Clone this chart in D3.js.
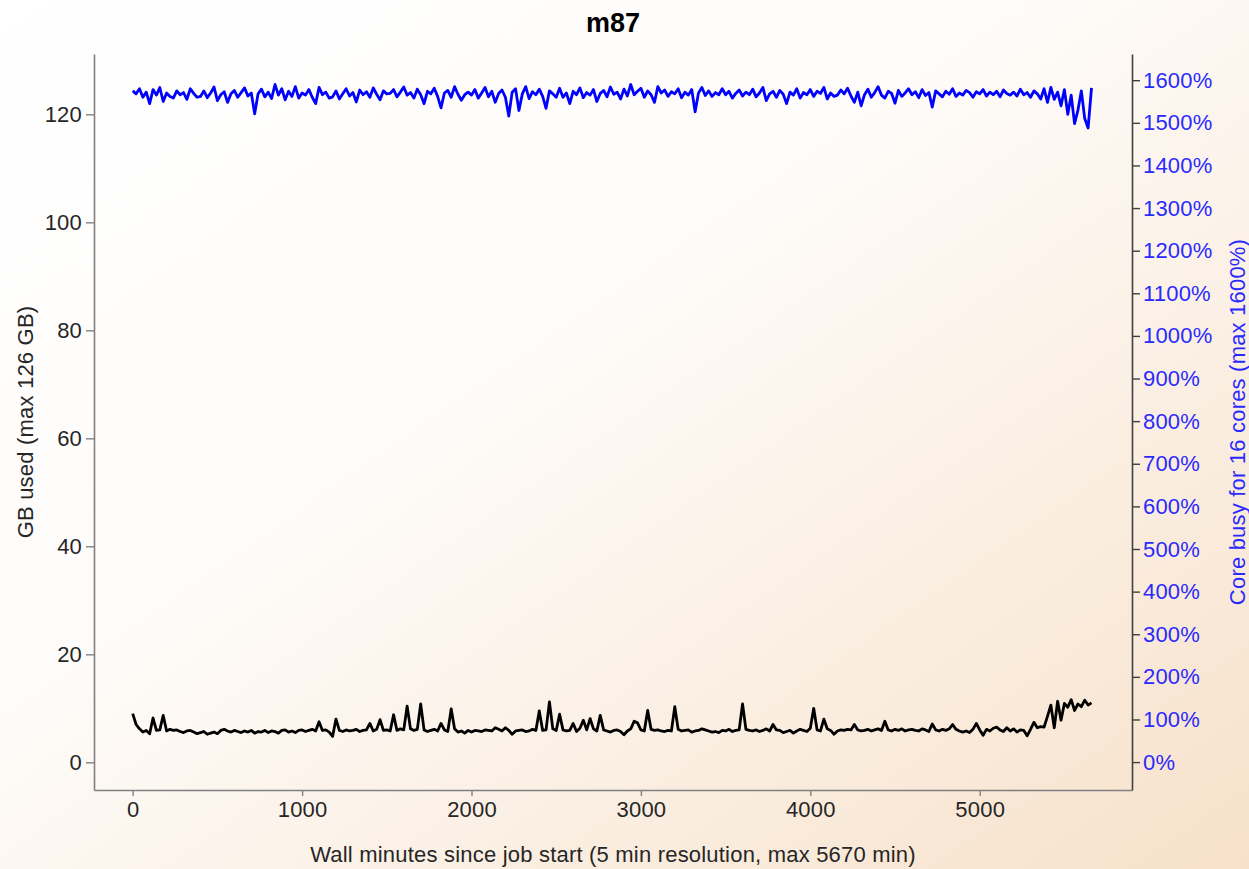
<!DOCTYPE html>
<html>
<head>
<meta charset="utf-8">
<script src="https://cdn.jsdelivr.net/npm/d3@7"></script>
<style>
  html, body { margin: 0; padding: 0; }
  body { width: 1249px; height: 869px; overflow: hidden; }
  text { font-family: "Liberation Sans", Arial, Helvetica, sans-serif; }
</style>
</head>
<body>
<div id="chart"></div>
<script>
// samples every 20 wall minutes
var stepMinutes = 20;

// GB used
var memGB = [
  9.0, 7.0, 6.2, 5.6, 5.9, 5.3, 8.2, 5.9, 6.0, 8.7,
  5.8, 6.1, 5.9, 6.0, 5.7, 5.5, 5.8, 5.9, 5.6, 5.3,
  5.5, 5.7, 5.2, 5.4, 5.6, 5.3, 5.9, 6.1, 5.8, 5.6,
  5.9, 5.7, 5.5, 5.8, 5.6, 5.9, 5.4, 5.7, 5.6, 5.9,
  5.5, 5.8, 5.7, 5.4, 5.9, 6.0, 5.6, 5.8, 5.5, 5.9,
  6.0, 5.7, 5.9, 6.1, 5.8, 7.5, 5.9, 6.0, 5.6, 4.8,
  8.0, 5.9, 5.7, 6.0, 5.8, 5.9, 6.1, 5.7, 5.9, 6.0,
  7.2, 5.8, 6.1, 7.9, 5.9, 6.0, 5.8, 8.8, 5.9, 6.2,
  6.0, 10.4, 6.2, 5.9, 6.1, 10.8, 6.0, 5.7, 5.9, 6.1,
  5.8, 7.2, 6.0, 5.7, 9.9, 6.2, 5.6, 5.8, 5.4, 5.9,
  5.6, 5.9, 5.8, 5.7, 6.0, 5.9, 5.8, 6.4, 6.1, 5.8,
  6.4, 5.9, 5.2, 5.8, 5.9, 6.0, 5.7, 5.8, 6.1, 5.9,
  9.5, 5.9, 6.0, 11.2, 6.2, 5.9, 8.9, 6.0, 5.8, 5.9,
  7.2, 5.7, 6.3, 7.8, 6.0, 8.1, 6.2, 5.8, 8.7, 6.0,
  5.8, 5.6, 5.9, 6.0, 5.7, 5.1, 5.8, 6.2, 7.6, 7.3,
  6.0, 5.8, 9.6, 6.1, 5.9, 6.0, 5.8, 5.7, 5.9, 5.8,
  10.3, 6.1, 5.8, 5.9, 6.0, 5.6, 5.8, 5.9, 6.2, 6.0,
  5.8, 5.6, 5.7, 5.5, 5.9, 5.8, 6.1, 5.7, 5.9, 6.0,
  10.8, 6.1, 5.9, 5.8, 6.0, 5.7, 5.9, 6.2, 5.8, 7.0,
  6.0, 5.9, 5.5, 5.7, 5.9, 5.4, 5.8, 6.1, 5.9, 5.7,
  6.3, 10.0, 6.0, 5.8, 8.0, 6.2, 5.9, 5.2, 5.8, 6.0,
  5.9, 6.1, 6.0, 7.0, 6.0, 5.8, 5.9, 6.1, 5.8, 6.0,
  6.2, 5.9, 7.6, 6.0, 5.8, 6.1, 5.9, 6.2, 5.8, 6.0,
  6.1, 5.9, 5.8, 6.2, 6.0, 5.7, 7.1, 6.0, 5.8, 6.1,
  5.9, 6.2, 7.0, 6.1, 5.8, 5.6, 5.8, 5.5, 6.1, 7.2,
  6.0, 5.0, 6.1, 5.8, 6.3, 6.5, 6.0, 5.7, 6.4, 5.8,
  6.2, 5.6, 6.0, 5.9, 4.9, 6.1, 7.4, 6.4, 6.6, 6.5,
  8.5, 10.6, 6.4, 11.3, 7.8, 10.9, 10.2, 11.6, 9.6, 10.8,
  10.3, 11.5, 10.6, 11.0
];

// core busy in percent
var cpuPct = [
  1575, 1568, 1580, 1560, 1572, 1545, 1578, 1565, 1583, 1550,
  1570, 1562, 1558, 1575, 1566, 1571, 1555, 1580, 1569, 1560,
  1562, 1575, 1559, 1570, 1584, 1552, 1566, 1573, 1548, 1568,
  1576, 1560, 1571, 1582, 1563, 1570, 1521, 1568, 1579, 1561,
  1572, 1557, 1590, 1565, 1580, 1554, 1574, 1562, 1585, 1558,
  1570, 1565, 1578, 1560, 1545, 1583, 1566, 1572, 1558, 1561,
  1575, 1556, 1568, 1580, 1563, 1571, 1549, 1577, 1566, 1573,
  1560, 1582, 1567, 1554, 1575, 1568, 1569, 1578, 1561, 1572,
  1584, 1565, 1571, 1558, 1579, 1566, 1545, 1574, 1568, 1581,
  1562, 1535, 1570, 1576, 1560, 1585, 1567, 1553, 1566, 1572,
  1565, 1578, 1558, 1570, 1583, 1561, 1574, 1548, 1569, 1577,
  1560, 1516, 1572, 1580, 1529, 1568, 1585, 1557, 1573, 1566,
  1579, 1562, 1534, 1575, 1568, 1560, 1581, 1560, 1570, 1545,
  1574, 1566, 1582, 1559, 1571, 1565, 1578, 1550, 1569, 1576,
  1561, 1584, 1567, 1572, 1556, 1579, 1563, 1590, 1566, 1574,
  1581, 1560, 1575, 1566, 1548, 1585, 1570, 1577, 1562, 1573,
  1568, 1580, 1559, 1572, 1565, 1578, 1526, 1570, 1583, 1564,
  1575, 1562, 1571, 1566, 1580, 1566, 1574, 1558, 1569, 1577,
  1563, 1572, 1566, 1579, 1561, 1570, 1583, 1552, 1568, 1574,
  1560, 1576, 1567, 1545, 1572, 1565, 1580, 1558, 1571, 1566,
  1578, 1562, 1574, 1569, 1583, 1556, 1570, 1562, 1565, 1577,
  1568, 1581, 1563, 1548, 1572, 1540, 1566, 1579, 1560, 1571,
  1585, 1565, 1558, 1574, 1569, 1546, 1576, 1562, 1570, 1580,
  1566, 1573, 1559, 1578, 1564, 1571, 1537, 1575, 1568, 1561,
  1574, 1567, 1580, 1562, 1570, 1565, 1576, 1571, 1560, 1573,
  1568, 1578, 1563, 1572, 1566, 1574, 1561, 1577, 1569, 1565,
  1572, 1563, 1579, 1566, 1571, 1560, 1575, 1568, 1556, 1580,
  1548, 1583, 1555, 1572, 1540, 1578, 1520, 1565, 1498, 1530,
  1575, 1510, 1488, 1582
];

var xTicks = [0, 1000, 2000, 3000, 4000, 5000];
var memTicks = [0, 20, 40, 60, 80, 100, 120];
var cpuTicks = [0, 100, 200, 300, 400, 500, 600, 700, 800, 900, 1000, 1100, 1200, 1300, 1400, 1500, 1600];

var title = "m87";
var xLabel = "Wall minutes since job start (5 min resolution, max 5670 min)";
var memLabel = "GB used (max 126 GB)";
var cpuLabel = "Core busy for 16 cores (max 1600%)";

// 1. frame
var W = 1249, H = 869;
var plot = { left: 94, right: 1132, top: 54, bottom: 790 };

var svg = d3.select("#chart").append("svg")
  .attr("width", W)
  .attr("height", H);

// background: white fading to peach toward the lower right
var grad = svg.append("defs").append("linearGradient")
  .attr("id", "bg")
  .attr("x1", "0%").attr("y1", "0%")
  .attr("x2", "100%").attr("y2", "100%");
grad.append("stop").attr("offset", "0%").attr("stop-color", "#ffffff");
grad.append("stop").attr("offset", "40%").attr("stop-color", "#fefcfa");
grad.append("stop").attr("offset", "100%").attr("stop-color", "#f7e1ca");

svg.append("rect")
  .attr("width", W)
  .attr("height", H)
  .attr("fill", "url(#bg)");

// 2. scales
var xScale = d3.scaleLinear()
  .domain([-228.5, 5899])
  .range([plot.left, plot.right]);

var yMem = d3.scaleLinear()
  .domain([-5.13, 131.17])
  .range([plot.bottom, plot.top]);

var yCpu = d3.scaleLinear()
  .domain([-65.5, 1661.5])
  .range([plot.bottom, plot.top]);

// 3. series
var memPoints = memGB.map(function (v, i) { return { t: i * stepMinutes, v: v }; });
var cpuPoints = cpuPct.map(function (v, i) { return { t: i * stepMinutes, v: v }; });

var memLine = d3.line()
  .x(function (d) { return xScale(d.t); })
  .y(function (d) { return yMem(d.v); });

var cpuLine = d3.line()
  .x(function (d) { return xScale(d.t); })
  .y(function (d) { return yCpu(d.v); });

svg.append("path")
  .datum(cpuPoints)
  .attr("fill", "none")
  .attr("stroke", "#0000ff")
  .attr("stroke-width", 2.8)
  .attr("stroke-linejoin", "round")
  .attr("d", cpuLine);

svg.append("path")
  .datum(memPoints)
  .attr("fill", "none")
  .attr("stroke", "#000000")
  .attr("stroke-width", 2.8)
  .attr("stroke-linejoin", "round")
  .attr("d", memLine);

// 4. axes
var fontSize = 22;
var tracking = "0.2px";

var gx = svg.append("g")
  .attr("transform", "translate(0," + plot.bottom + ")")
  .call(d3.axisBottom(xScale).tickValues(xTicks).tickSize(6).tickPadding(5).tickSizeOuter(0)
    .tickFormat(function (d) { return String(d); }));

var gl = svg.append("g")
  .attr("transform", "translate(" + plot.left + ",0)")
  .call(d3.axisLeft(yMem).tickValues(memTicks).tickSize(8).tickPadding(4).tickSizeOuter(0));

var gr = svg.append("g")
  .attr("transform", "translate(" + plot.right + ",0)")
  .call(d3.axisRight(yCpu).tickValues(cpuTicks).tickSize(8).tickPadding(3).tickSizeOuter(0)
    .tickFormat(function (d) { return d + "%"; }));

[gx, gl].forEach(function (g) {
  g.select(".domain").attr("stroke", "#808080").attr("stroke-width", 1.6);
  g.selectAll(".tick line").attr("stroke", "#808080").attr("stroke-width", 1.4);
  g.selectAll(".tick text")
    .attr("fill", "#262626")
    .style("font-size", fontSize + "px")
    .style("letter-spacing", tracking)
    .style("font-family", "'Liberation Sans', Arial, sans-serif");
});

gr.select(".domain").attr("stroke", "#404040").attr("stroke-width", 1.6);
gr.selectAll(".tick line").attr("stroke", "#404040").attr("stroke-width", 1.4);
gr.selectAll(".tick text")
  .attr("fill", "#2a2aff")
  .style("font-size", fontSize + "px")
  .style("letter-spacing", tracking)
  .style("font-family", "'Liberation Sans', Arial, sans-serif");

// 5. labels
svg.append("text")
  .attr("x", 613)
  .attr("y", 32)
  .attr("text-anchor", "middle")
  .style("font-size", "27px")
  .style("font-weight", "bold")
  .attr("fill", "#000")
  .text(title);

svg.append("text")
  .attr("x", 613)
  .attr("y", 862)
  .attr("text-anchor", "middle")
  .style("font-size", fontSize + "px")
  .style("letter-spacing", tracking)
  .attr("fill", "#262626")
  .text(xLabel);

svg.append("text")
  .attr("transform", "translate(33,422) rotate(-90)")
  .attr("text-anchor", "middle")
  .style("font-size", fontSize + "px")
  .style("letter-spacing", tracking)
  .attr("fill", "#262626")
  .text(memLabel);

svg.append("text")
  .attr("transform", "translate(1245,422) rotate(-90)")
  .attr("text-anchor", "middle")
  .style("font-size", fontSize + "px")
  .style("letter-spacing", tracking)
  .attr("fill", "#2a2aff")
  .text(cpuLabel);
</script>
</body>
</html>
